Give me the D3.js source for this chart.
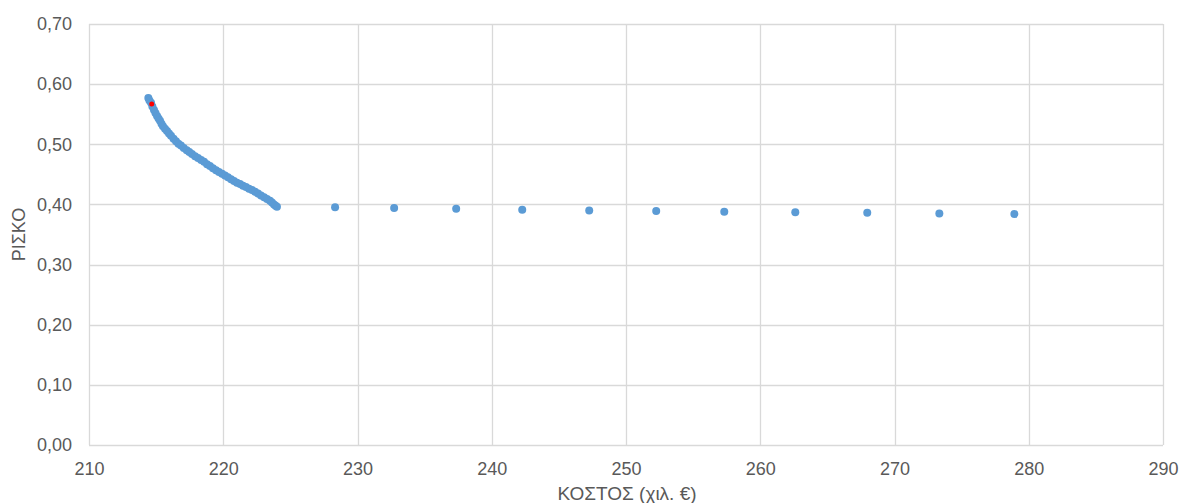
<!DOCTYPE html>
<html><head><meta charset="utf-8">
<script src="https://cdn.jsdelivr.net/npm/d3@7"></script>
<style>body{margin:0;background:#fff;} svg{display:block;}</style>
</head><body>
<svg id="c" width="1180" height="503"></svg>
<script>
const xTicks = [210,220,230,240,250,260,270,280,290];
const yTicks = [0,0.1,0.2,0.3,0.4,0.5,0.6,0.7];
const costValues = [214.42,214.50,214.62,214.72,214.84,214.95,215.07,215.18,215.29,215.40,215.51,215.66,215.81,215.96,216.11,216.30,216.48,216.66,216.85,217.06,217.28,217.47,217.67,217.90,218.12,218.35,218.57,218.79,219.01,219.23,219.46,219.68,219.91,220.13,220.35,220.58,220.80,221.02,221.25,221.47,221.69,221.92,222.14,222.37,222.59,222.81,223.04,223.26,223.48,223.63,223.78,223.90,224.00,
  228.33,232.73,237.35,242.27,247.26,252.25,257.32,262.61,267.97,273.34,278.93];
const riskValues = [0.577,0.573,0.569,0.563,0.557,0.552,0.547,0.543,0.539,0.534,0.530,0.526,0.522,0.518,0.514,0.509,0.505,0.501,0.498,0.494,0.490,0.487,0.484,0.480,0.477,0.474,0.471,0.467,0.464,0.460,0.457,0.454,0.451,0.448,0.445,0.442,0.439,0.436,0.434,0.431,0.429,0.426,0.424,0.421,0.418,0.415,0.412,0.409,0.406,0.403,0.400,0.398,0.396,
  0.3955,0.394,0.393,0.391,0.390,0.389,0.388,0.387,0.386,0.385,0.384];
const highlightCost = [214.67];
const highlightRisk = [0.567];

const svg = d3.select("#c");
const L=89, R=1163, T=24, B=445;
const x = d3.scaleLinear().domain([210,290]).range([L,R]);
const y = d3.scaleLinear().domain([0,0.7]).range([B,T]);
const fmt = d => d.toFixed(2).replace(".", ",");
const font = "'Liberation Sans', Arial, sans-serif";

// gridlines
svg.append("g").selectAll("line").data(yTicks).join("line")
  .attr("x1",L).attr("x2",R).attr("y1",d=>Math.round(y(d))+0.5).attr("y2",d=>Math.round(y(d))+0.5)
  .attr("stroke","#d9d9d9").attr("stroke-width",1.3);
svg.append("g").selectAll("line").data(xTicks).join("line")
  .attr("y1",T).attr("y2",B).attr("x1",d=>Math.round(x(d))+0.5).attr("x2",d=>Math.round(x(d))+0.5)
  .attr("stroke","#d9d9d9").attr("stroke-width",1.3);

// axes (labels only)
const yAxis = d3.axisLeft(y).tickValues(yTicks).tickFormat(fmt).tickSize(0).tickPadding(17);
const gy = svg.append("g").attr("transform",`translate(${L},0)`).call(yAxis);
gy.select(".domain").remove();
gy.selectAll("text").attr("font-family",font).attr("font-size",18).attr("fill","#595959");

const xAxis = d3.axisBottom(x).tickValues(xTicks).tickFormat(d3.format("d")).tickSize(0).tickPadding(17);
const gx = svg.append("g").attr("transform",`translate(0,${B})`).call(xAxis);
gx.select(".domain").remove();
gx.selectAll("text").attr("font-family",font).attr("font-size",18).attr("fill","#595959");

// axis titles
svg.append("text").attr("x",627).attr("y",500).attr("text-anchor","middle")
  .attr("font-family",font).attr("font-size",19).attr("fill","#595959").text("ΚΟΣΤΟΣ (χιλ. €)");
svg.append("text").attr("transform",`translate(25,${(T+B)/2}) rotate(-90)`).attr("text-anchor","middle")
  .attr("font-family",font).attr("font-size",18).attr("fill","#595959").text("ΡΙΣΚΟ");

// points
const pts = costValues.map((c,i)=>({c, r: riskValues[i]}));
svg.append("g").selectAll("circle").data(pts).join("circle")
  .attr("cx",d=>x(d.c)).attr("cy",d=>y(d.r)).attr("r",4).attr("fill","#5b9bd5");
const hp = highlightCost.map((c,i)=>({c, r: highlightRisk[i]}));
svg.append("g").selectAll("circle").data(hp).join("circle")
  .attr("cx",d=>x(d.c)).attr("cy",d=>y(d.r)).attr("r",2.5).attr("fill","#ff0000");
</script>
</body></html>
